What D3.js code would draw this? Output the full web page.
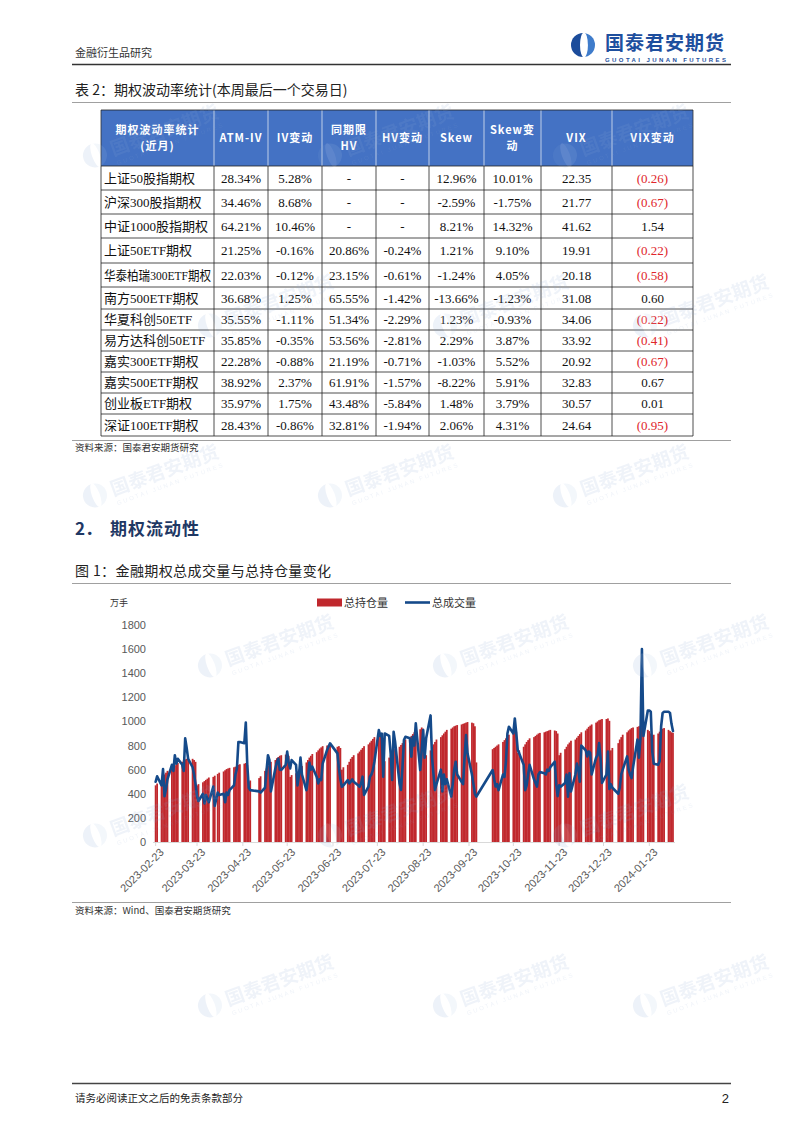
<!DOCTYPE html>
<html><head><meta charset="utf-8">
<script src="https://cdn.jsdelivr.net/npm/d3@7"></script>
<style>
body{margin:0;background:#fff;}
svg{display:block;}
</style></head><body>
<svg id="page" width="802" height="1134"></svg>
<script>
// ---------------- DATA ----------------
// Table 2
const tableHeaders = ["期权波动率统计\n(近月)", "ATM-IV", "IV变动", "同期限\nHV", "HV变动", "Skew", "Skew变\n动", "VIX", "VIX变动"];
const rowNames = ["上证50股指期权","沪深300股指期权","中证1000股指期权","上证50ETF期权","华泰柏瑞300ETF期权","南方500ETF期权","华夏科创50ETF","易方达科创50ETF","嘉实300ETF期权","嘉实500ETF期权","创业板ETF期权","深证100ETF期权"];
const atmIV   = ["28.34%","34.46%","64.21%","21.25%","22.03%","36.68%","35.55%","35.85%","22.28%","38.92%","35.97%","28.43%"];
const ivChg   = ["5.28%","8.68%","10.46%","-0.16%","-0.12%","1.25%","-1.11%","-0.35%","-0.88%","2.37%","1.75%","-0.86%"];
const hvSame  = ["-","-","-","20.86%","23.15%","65.55%","51.34%","53.56%","21.19%","61.91%","43.48%","32.81%"];
const hvChg   = ["-","-","-","-0.24%","-0.61%","-1.42%","-2.29%","-2.81%","-0.71%","-1.57%","-5.84%","-1.94%"];
const skew    = ["12.96%","-2.59%","8.21%","1.21%","-1.24%","-13.66%","1.23%","2.29%","-1.03%","-8.22%","1.48%","2.06%"];
const skewChg = ["10.01%","-1.75%","14.32%","9.10%","4.05%","-1.23%","-0.93%","3.87%","5.52%","5.91%","3.79%","4.31%"];
const vix     = ["22.35","21.77","41.62","19.91","20.18","31.08","34.06","33.92","20.92","32.83","30.57","24.64"];
const vixChg  = ["(0.26)","(0.67)","1.54","(0.22)","(0.58)","0.60","(0.22)","(0.41)","(0.67)","0.67","0.01","(0.95)"];

// Figure 1 : trading days (weekdays minus exchange holidays)
const startDate = "2023-02-23";
const endDate = "2024-02-08";
const holidays = ["2023-04-05","2023-05-01","2023-05-02","2023-05-03","2023-06-22","2023-06-23","2023-09-29","2023-10-02","2023-10-03","2023-10-04","2023-10-05","2023-10-06","2024-01-01"];
const xTickLabels = ["2023-02-23","2023-03-23","2023-04-23","2023-05-23","2023-06-23","2023-07-23","2023-08-23","2023-09-23","2023-10-23","2023-11-23","2023-12-23","2024-01-23"];
const yTicks = [0,200,400,600,800,1000,1200,1400,1600,1800];
const seriesNames = ["总持仓量","总成交量"];

// 总持仓量 (万手), one per trading day
const openInterest = [
 470,485,500,515,
 560,575,590, 610,625,635,645,655, 665,675,685,690,700, 690,680,665,470,480, 495,505,515,525,535,
 540,550,565,575, 585,595,605,610,615, 620,625,630,640,645, 650,655,640,500,510,
 530,545, 590,610,630,650,665, 680,695,705,715,720, 725,730,715,540,555, 570,585,600,
 615,630, 660,680,700,715,730, 745,760,775,785,795, 800,805,800, 790,795,780,600,620,
 640,665,690,705,720, 735,750,765,780,795, 810,825,840,855,870, 880,890,870,650,670, 700,
 720,740,760,775, 790,805,820,835,850, 865,880,895,910,920, 935,950,940,700,720, 760,790,810,830,
 850, 870,885,900,915,930, 940,950,960,965,970, 975,980,985,990,995, 990,985,960,660,
 770,780,790,800,810, 830,845,860,875,890, 910,925,915,740,760, 790,810,
 830,845,860, 870,880,890,900,905, 910,915,920,925,930, 925,920,900,720,740, 770,790,810,825,
 840, 850,865,880,895,910, 925,940,955,965,975, 990,1000,1010,1015,1020, 1020,1025,1005,760,780,
 820,850,870,890, 910,925,935,945,950, 955,960,965,950,940, 930,920,900,880,890, 900,915,930,
 940,945, 930,920,910,905
];
// 总成交量 (万手), one per trading day
const volume = [
 500,545,470,605,
 380,440,520, 640,590,720,650,690, 640,590,860,780,690, 620,560,480,380,340, 400,320,390,360,330,
 460,300,410,390, 400,330,410,390,430, 470,560,610,830,830, 820,990,640,450,430,
 420,410, 450,590,720,680,420, 610,660,690,600,597, 640,750,660,610,680, 640,470,560,
 700,560, 430,520,660,600,625, 540,486,520,514,650, 763,790,818, 735,610,520,459,470,
 514,486,500,520,500, 470,459,486,542,390, 459,542,560,597,666, 928,880,900,542,900, 880,
 735,514,914,832, 486,431,620,846,873, 860,707,873,800,984, 597,760,928,700,860, 1050,700,560,431,
 480, 600,420,560,480,520, 377,480,600,666,560, 500,480,700,887,735, 560,480,400,377,
 597,520,460,480,430, 560,540,666,900,956, 900,1025,900,763,735, 640,430,
 470,560,640, 520,490,460,560,580, 570,560,600,590,620, 666,480,380,470,459, 490,560,376,570,
 420, 560,650,600,500,800, 760,710,750,740,560, 700,720,820,700,490, 560,750,440,480,450,
 400,450,560,600, 710,600,560,530,620, 850,700,860,1600,880, 1090,1090,1080,750,650, 640,670,960,
 1070,1080, 1080,1070,980,920
];

// ---------------- PAGE ----------------
const svg = d3.select("#page");
const CJK = "'Noto Sans CJK SC', sans-serif";
const SERIF = "'Liberation Serif', 'Noto Sans CJK SC', serif";
const SANS = "'Liberation Sans', Arial, sans-serif";

function hline(y, x1, x2, color, w){
  svg.append("line").attr("x1",x1).attr("x2",x2).attr("y1",y).attr("y2",y)
    .attr("stroke",color).attr("stroke-width",w);
}
function txt(x, y, s, size, opts={}){
  return (opts.parent || svg).append("text").attr("x",x).attr("y",y).text(s)
    .attr("font-family", opts.family || CJK).attr("font-size", size)
    .attr("fill", opts.fill || "#222").attr("font-weight", opts.weight || "normal")
    .attr("text-anchor", opts.anchor || "start")
    .attr("letter-spacing", opts.ls || 0);
}
function logoIcon(g, r, c1, c2){
  g.append("path").attr("d", d3.arc()({innerRadius:0, outerRadius:r, startAngle:Math.PI, endAngle:2*Math.PI})).attr("fill",c1);
  g.append("path").attr("d", d3.arc()({innerRadius:0, outerRadius:r, startAngle:0, endAngle:Math.PI})).attr("fill",c2);
  g.append("ellipse").attr("cx",r*0.08).attr("cy",0).attr("rx",r*0.33).attr("ry",r*1.04).attr("fill","#fff");
}

// header
txt(75, 57, "金融衍生品研究", 11, {fill:"#333"});
const lg = svg.append("g").attr("transform","translate(583,45)");
logoIcon(lg, 12, "#1b4c9b", "#3f7ccb");
txt(605, 50, "国泰君安期货", 19, {fill:"#1e4f9e", weight:"bold", ls:1});
txt(605, 62, "GUOTAI JUNAN FUTURES", 6, {fill:"#1e4f9e", weight:"bold", family:SANS})
  .attr("textLength",121).attr("lengthAdjust","spacing");
hline(64.5, 72, 731, "#333", 1.3);

// table title
txt(75, 95, "表 2：期权波动率统计(本周最后一个交易日)", 14, {fill:"#222"});
hline(102.5, 72, 731, "#888", 0.8);

// ---------------- TABLE ----------------
const colX = [101,214,268,322,376,429,484,541,612,693];
const rowY = [110,166,190,214,238,263,287,309,330,351,372,393,414,436];
const tbl = svg.append("g");
tbl.append("rect").attr("x",colX[0]).attr("y",rowY[0]).attr("width",colX[9]-colX[0])
  .attr("height",rowY[1]-rowY[0]).attr("fill","#4472c4");
tableHeaders.forEach((h,i)=>{
  const lines = h.split("\n");
  const cx = (colX[i]+colX[i+1])/2, cy = (rowY[0]+rowY[1])/2;
  const t = tbl.append("text").attr("text-anchor","middle").attr("font-family",CJK)
    .attr("font-size",11).attr("font-weight","bold").attr("fill","#fff").attr("letter-spacing",1);
  lines.forEach((l,j)=>{
    t.append("tspan").attr("x",cx).attr("y", cy + 4 + (j-(lines.length-1)/2)*16).text(l);
  });
});
colX.forEach((x,i)=>{
  tbl.append("line").attr("x1",x).attr("x2",x).attr("y1",rowY[0]).attr("y2",rowY[1])
    .attr("stroke", (i===0||i===9)?"#333":"#dfe6f3").attr("stroke-width",0.8);
  tbl.append("line").attr("x1",x).attr("x2",x).attr("y1",rowY[1]).attr("y2",rowY[rowY.length-1])
    .attr("stroke","#222").attr("stroke-width",0.8);
});
rowY.forEach((y)=>{
  tbl.append("line").attr("x1",colX[0]).attr("x2",colX[9]).attr("y1",y).attr("y2",y)
    .attr("stroke","#222").attr("stroke-width",0.8);
});
const columns = [atmIV, ivChg, hvSame, hvChg, skew, skewChg, vix, vixChg];
rowNames.forEach((name,r)=>{
  const cy = (rowY[r+1]+rowY[r+2])/2 + 4.5;
  const t = tbl.append("text").attr("x",colX[0]+3).attr("y",cy).text(name)
    .attr("font-family",SERIF).attr("font-size",13).attr("fill","#111");
  const maxW = colX[1]-colX[0]-6;
  if (t.node().getComputedTextLength() > maxW) t.attr("textLength",maxW).attr("lengthAdjust","spacingAndGlyphs");
  columns.forEach((col,c)=>{
    const v = col[r];
    tbl.append("text").attr("x",(colX[c+1]+colX[c+2])/2).attr("y",cy).text(v)
      .attr("text-anchor","middle").attr("font-family",SERIF).attr("font-size",13)
      .attr("fill", (c===7 && v.startsWith("(")) ? "#e0262b" : "#111");
  });
});

hline(440.5, 72, 731, "#888", 0.8);
txt(75, 451, "资料来源：国泰君安期货研究", 9.5, {fill:"#333"});

txt(75, 535, "2．", 17, {fill:"#1f3864", weight:"bold"});
txt(110, 535, "期权流动性", 17, {fill:"#1f3864", weight:"bold", ls:1});
txt(75, 576, "图 1：金融期权总成交量与总持仓量变化", 14, {fill:"#222", ls:0.4});
hline(583.5, 72, 731, "#888", 0.8);

// ---------------- CHART ----------------
const parse = d3.utcParse("%Y-%m-%d");
const hol = new Set(holidays);
const dates = d3.utcDay.range(parse(startDate), d3.utcDay.offset(parse(endDate),1))
  .filter(d => d.getUTCDay()!==0 && d.getUTCDay()!==6 && !hol.has(d3.utcFormat("%Y-%m-%d")(d)));
const data = dates.map((d,i)=>({date:d, oi:openInterest[i], vol:volume[i]}));

const x = d3.scaleUtc().domain([parse(startDate), d3.utcDay.offset(parse(endDate),1)]).range([154.9, 673.7]);
const y = d3.scaleLinear().domain([0,1800]).range([842, 625]);
const dayW = x(d3.utcDay.offset(parse(startDate),1)) - x(parse(startDate));
const cxOf = d => x(d) + dayW/2;

const chart = svg.append("g");
chart.append("g").selectAll("rect").data(data).join("rect")
  .attr("x", d => x(d.date) - 0.15).attr("width", dayW + 0.3)
  .attr("y", d => y(d.oi)).attr("height", d => y(0) - y(d.oi))
  .attr("fill", "#c0282d");

chart.append("path").datum(data)
  .attr("d", d3.line().x(d => cxOf(d.date)).y(d => y(d.vol)))
  .attr("fill","none").attr("stroke","#154a8a").attr("stroke-width",2.6)
  .attr("stroke-linejoin","round").attr("stroke-linecap","round");

const yAxis = d3.axisLeft(y).tickValues(yTicks).tickSize(0).tickPadding(0).tickFormat(d3.format("d"));
const yg = chart.append("g").attr("transform","translate(146,0)").call(yAxis);
yg.select(".domain").remove();
yg.selectAll("text").attr("font-family",SANS).attr("font-size",11).attr("fill","#595959");

const xTickDates = xTickLabels.map(parse);
const xAxis = d3.axisBottom(x).tickValues(xTickDates).tickSize(4).tickFormat(d3.utcFormat("%Y-%m-%d"));
const xg = chart.append("g").attr("transform","translate(0,842)").call(xAxis);
xg.select(".domain").attr("stroke","#d9d9d9").attr("d","M153,0.5H675");
xg.selectAll(".tick line").attr("stroke","#d9d9d9");
xg.selectAll(".tick").attr("transform", d => `translate(${cxOf(d)},0)`);
xg.selectAll("text").attr("font-family",SANS).attr("font-size",11).attr("fill","#595959")
  .attr("text-anchor","end").attr("dy",0).attr("y",0)
  .attr("transform","translate(9,11) rotate(-45)");

txt(110, 606, "万手", 9, {fill:"#333"});
chart.append("rect").attr("x",317).attr("y",598.5).attr("width",25).attr("height",8).attr("fill","#c0282d");
txt(344, 607, seriesNames[0], 11, {fill:"#333"});
chart.append("line").attr("x1",405).attr("x2",430).attr("y1",602.5).attr("y2",602.5)
  .attr("stroke","#154a8a").attr("stroke-width",2.6);
txt(432, 607, seriesNames[1], 11, {fill:"#333"});

hline(902.5, 72, 731, "#888", 0.8);
txt(75, 914, "资料来源：Wind、国泰君安期货研究", 9.5, {fill:"#333"});

hline(1083.5, 72, 731, "#444", 1.4);
txt(75, 1102, "请务必阅读正文之后的免责条款部分", 10.5, {fill:"#222"});
txt(729, 1103, "2", 13, {fill:"#222", anchor:"end", family:SANS});

// ---------------- WATERMARK (faint, over content) ----------------
const wmSpots = [
  [110,150],[345,150],[580,150],
  [225,320],[460,320],[660,320],
  [110,490],[345,490],[580,490],
  [225,660],[460,660],[660,660],
  [110,830],[345,830],[580,830],
  [225,1000],[460,1000],[660,1000]
];
const wm = svg.append("g").attr("opacity",0.14).attr("pointer-events","none");
wmSpots.forEach(([wx,wy])=>{
  const g = wm.append("g").attr("transform",`translate(${wx},${wy}) rotate(-20)`);
  const ic = g.append("g").attr("transform","translate(-16,0)");
  logoIcon(ic, 12, "#7f9fcf", "#a9c1e3");
  txt(1, 7, "国泰君安期货", 19, {parent:g, fill:"#8ea9d3", weight:"bold"});
  txt(2, 17, "GUOTAI JUNAN FUTURES", 6, {parent:g, fill:"#8ea9d3", family:SANS})
    .attr("textLength",112).attr("lengthAdjust","spacing");
});
</script>
</body></html>
